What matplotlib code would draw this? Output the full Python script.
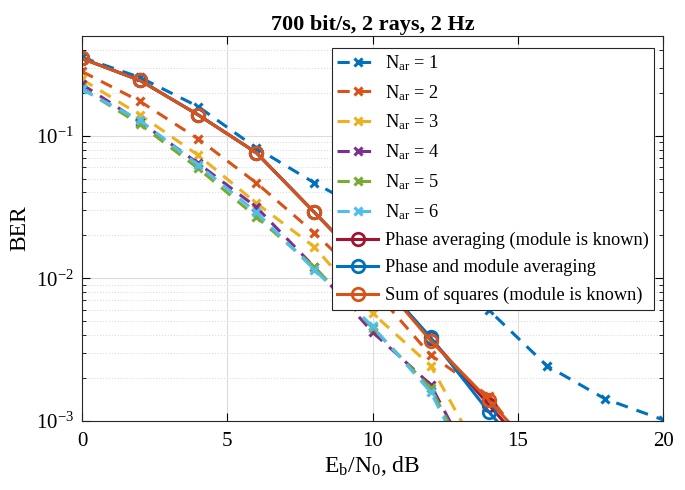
import matplotlib
matplotlib.use("Agg")
import matplotlib.pyplot as plt
from matplotlib.ticker import LogLocator, NullFormatter

plt.rcParams['font.family'] = ['Liberation Serif', 'DejaVu Serif']
plt.rcParams['mathtext.fontset'] = 'custom'
plt.rcParams['mathtext.rm'] = 'Liberation Serif'
plt.rcParams['mathtext.it'] = 'Liberation Serif:italic'

# Eb/N0 grid, dB
snr = [0, 2, 4, 6, 8, 10, 12, 14, 16, 18, 20]

# BER for N_ar = 1..6 (dashed, x markers)
ber_nar1 = [0.354, 0.256, 0.160, 0.082, 0.0467, 0.028, 0.0135, 0.0060, 0.00244, 0.00143, 0.00102]
ber_nar2 = [0.282, 0.174, 0.095, 0.0467, 0.0208, 0.0085, 0.0029, 0.0015, 0.00045]
ber_nar3 = [0.248, 0.140, 0.073, 0.0337, 0.0166, 0.0057, 0.00244, 0.00045]
ber_nar4 = [0.229, 0.125, 0.064, 0.0316, 0.0120, 0.0042, 0.0018, 0.00030]
ber_nar5 = [0.215, 0.120, 0.059, 0.0270, 0.0120, 0.0045, 0.0017, 0.00028]
ber_nar6 = [0.211, 0.128, 0.0625, 0.0290, 0.0115, 0.0046, 0.0016, 0.00025]

# solid curves, circle markers
ber_phase = [0.348, 0.244, 0.140, 0.076, 0.029, 0.011, 0.0038, 0.0013, 0.00045]
ber_phase_mod = [0.348, 0.244, 0.140, 0.076, 0.029, 0.011, 0.00385, 0.00116, 0.00040]
ber_sumsq = [0.348, 0.244, 0.140, 0.076, 0.029, 0.011, 0.00366, 0.0014, 0.00050]

nar_series = [ber_nar1, ber_nar2, ber_nar3, ber_nar4, ber_nar5, ber_nar6]
nar_colors = ['#0072BD', '#D95319', '#EDB120', '#7E2F8E', '#77AC30', '#4DBEEE']

solid_series = [ber_phase, ber_phase_mod, ber_sumsq]
solid_labels = ['Phase averaging (module is known)',
                'Phase and module averaging',
                'Sum of squares (module is known)']
solid_colors = ['#A2142F', '#0072BD', '#D95319']

fig = plt.figure(figsize=(6.85, 4.9), dpi=100)
ax = fig.add_axes([0.1197, 0.1408, 0.8483, 0.7857])

for i, (ys, c) in enumerate(zip(nar_series, nar_colors)):
    ax.semilogy(snr[:len(ys)], ys, '--', color=c, lw=2.2, marker='x',
                ms=6, mew=2.2, dashes=(4, 3),
                label=r'N$_{\rm ar}$ = %d' % (i + 1))

for ys, c, lab in zip(solid_series, solid_colors, solid_labels):
    ax.semilogy(snr[:len(ys)], ys, '-', color=c, lw=2.2, marker='o',
                ms=9, mew=2, mfc='none', label=lab)

ax.set_xlim(0, 20)
ax.set_ylim(1e-3, 0.5)
ax.set_xticks([0, 5, 10, 15, 20])
ax.yaxis.set_major_locator(LogLocator(base=10, numticks=10))
ax.yaxis.set_minor_locator(LogLocator(base=10, subs=range(2, 10), numticks=20))
ax.yaxis.set_minor_formatter(NullFormatter())

ax.grid(True, which='major', color='#dcdcdc', lw=0.8)
ax.grid(True, which='minor', axis='y', color='#dcdcdc', lw=0.8, ls=':')
ax.set_axisbelow(True)
ax.tick_params(which='both', direction='in', top=True, right=True, labelsize=15)
ax.tick_params(axis='x', pad=8)
ax.tick_params(axis='y', pad=6)
ax.tick_params(which='major', length=6)
ax.tick_params(which='minor', length=3)
for sp in ax.spines.values():
    sp.set_color('#262626')
    sp.set_linewidth(0.8)

ax.set_title('700 bit/s, 2 rays, 2 Hz', fontsize=16, fontweight='bold', pad=4)
ax.set_xlabel(r'E$_{\rm b}$/N$_{\rm 0}$, dB', fontsize=17, labelpad=2)
ax.set_ylabel('BER', fontsize=17, labelpad=4)

leg = ax.legend(loc='upper right', bbox_to_anchor=(0.985, 0.97), fontsize=13.2,
                framealpha=1, fancybox=False, edgecolor='#262626',
                handlelength=2.2, handletextpad=0.4, borderpad=0.3,
                labelspacing=0.55, borderaxespad=0)
leg.get_frame().set_linewidth(0.8)

fig.savefig('out.png', dpi=100)
